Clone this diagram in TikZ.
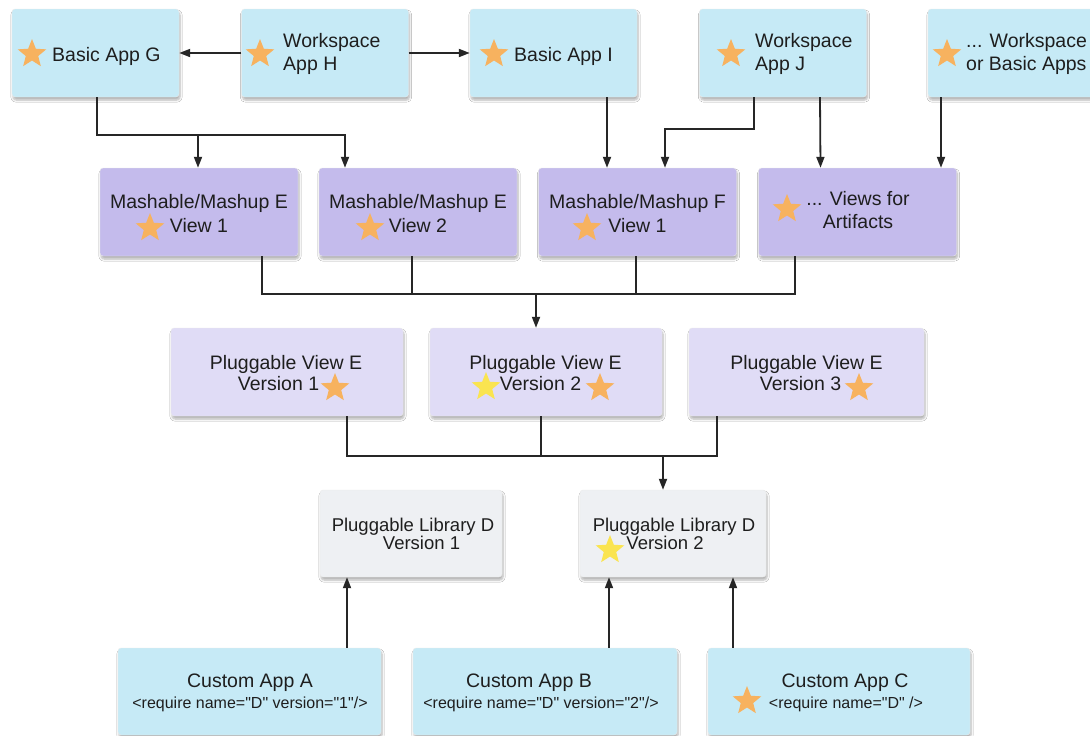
\documentclass[tikz,border=0pt]{standalone}
\usepackage{fontspec}
\setmainfont{Liberation Sans}
\newfontfamily\codefont{Liberation Sans}[Ligatures=TeXOff]
\usetikzlibrary{shapes.geometric,arrows.meta,shadows.blur}
\definecolor{appblue}{RGB}{198,234,246}
\definecolor{mashpurple}{RGB}{196,187,236}
\definecolor{viewlav}{RGB}{224,220,246}
\definecolor{libgray}{RGB}{238,240,243}
\definecolor{starorange}{RGB}{247,178,95}
\definecolor{staryellow}{RGB}{250,228,80}
\definecolor{textc}{RGB}{30,30,30}
\begin{document}
\begin{tikzpicture}[x=1pt,y=-1pt,
  box/.style={draw=black!8, line width=0.4pt, rounded corners=3pt, inner sep=0,
    blur shadow={shadow xshift=1pt, shadow yshift=-3pt, shadow blur steps=6, shadow blur extra rounding=2pt, shadow opacity=30}},
  topbox/.style={box, fill=appblue, minimum width=167pt, minimum height=88pt},
  mashbox/.style={box, fill=mashpurple, minimum width=198pt, minimum height=88pt},
  viewbox/.style={box, fill=viewlav, minimum width=232pt, minimum height=88pt},
  libbox/.style={box, fill=libgray, minimum width=184pt, minimum height=87pt},
  custbox/.style={box, fill=appblue, minimum width=263pt, minimum height=87pt},
  ostar/.style={star, star points=5, star point ratio=2.3, minimum size=30pt, inner sep=0pt, fill=starorange, draw=none},
  ystar/.style={ostar, fill=staryellow},
  txt/.style={font=\fontsize{19.5}{23}\selectfont, text=textc, inner sep=0pt},
  ltxt/.style={font=\fontsize{18.5}{20}\selectfont, text=textc, inner sep=0pt},
  stxt/.style={font=\codefont\fontsize{16}{19}\selectfont, text=textc, inner sep=0pt},
  conn/.style={line width=1.8pt, draw=black!85},
  arr/.style={conn, -{Triangle[length=11pt,width=8pt]}}
]
\fill[white] (0,0) rectangle (1090,736);
\useasboundingbox (0,0) rectangle (1090,736);

% top row
\node[topbox] (G) at (95.5,53) {};
\node[topbox] (H) at (325,53) {};
\node[topbox] (I) at (553.5,53) {};
\node[topbox] (J) at (783,53) {};
\node[topbox, minimum width=172pt] (K) at (1014,53) {};

\node[ostar] (sG) at (32,54) {};
\node[ostar] (sH) at (260,54) {};
\node[ostar] (sI) at (494,54) {};
\node[ostar] (sJ) at (731,54) {};
\node[ostar] (sK) at (947,54) {};

\node[txt, anchor=base west] (tG) at (52,61) {Basic App G};
\node[txt, anchor=base west] (tH1) at (283,47) {Workspace};
\node[txt, anchor=base west] (tH2) at (283,70) {App H};
\node[txt, anchor=base west] (tI) at (514,61) {Basic App I};
\node[txt, anchor=base west] (tJ1) at (755,47) {Workspace};
\node[txt, anchor=base west] (tJ2) at (755,70) {App J};
\node[txt, anchor=base west] (tK1) at (966,47) {... Workspace};
\node[txt, anchor=base west] (tK2) at (966,70) {or Basic Apps};

% second row
\node[mashbox] (E1) at (199,212) {};
\node[mashbox] (E2) at (418,212) {};
\node[mashbox] (F1) at (637.5,212) {};
\node[mashbox] (Art) at (857.5,212) {};

\node[txt, anchor=base] (tE1a) at (199,208) {Mashable/Mashup E};
\node[txt, anchor=base] (tE1b) at (199,232) {View 1};
\node[ostar] (sE1) at (150,228) {};
\node[txt, anchor=base] (tE2a) at (418,208) {Mashable/Mashup E};
\node[txt, anchor=base] (tE2b) at (418,232) {View 2};
\node[ostar] (sE2) at (370,228) {};
\node[txt, anchor=base] (tF1a) at (637.5,208) {Mashable/Mashup F};
\node[txt, anchor=base] (tF1b) at (637.5,232) {View 1};
\node[ostar] (sF1) at (587,228) {};
\node[txt, anchor=base] (tArta) at (858,205) {... Views for};
\node[txt, anchor=base] (tArtb) at (858,228) {Artifacts};
\node[ostar] (sArt) at (787,209) {};

% third row
\node[viewbox] (PV1) at (287,372) {};
\node[viewbox] (PV2) at (546,372) {};
\node[viewbox, minimum width=235pt] (PV3) at (806.5,372) {};

\node[txt, anchor=base] (tPV1a) at (286,369) {Pluggable View E};
\node[txt, anchor=base] (tPV1b) at (278.5,390) {Version 1};
\node[ostar] (sPV1) at (335,388) {};
\node[txt, anchor=base] (tPV2a) at (545.5,369) {Pluggable View E};
\node[txt, anchor=base] (tPV2b) at (540.5,390) {Version 2};
\node[ystar] (yPV2) at (486,387) {};
\node[ostar] (sPV2) at (600,388) {};
\node[txt, anchor=base] (tPV3a) at (806.5,369) {Pluggable View E};
\node[txt, anchor=base] (tPV3b) at (800.5,390) {Version 3};
\node[ostar] (sPV3) at (859,388) {};

% fourth row
\node[libbox, minimum width=182pt] (L1) at (411,533.5) {};
\node[libbox, minimum width=186pt] (L2) at (673,533.5) {};

\node[ltxt, anchor=base] (tL1a) at (413,531) {Pluggable Library D};
\node[ltxt, anchor=base] (tL1b) at (421.5,549.5) {Version 1};
\node[ltxt, anchor=base] (tL2a) at (674,531) {Pluggable Library D};
\node[ltxt, anchor=base] (tL2b) at (665,549.5) {Version 2};
\node[ystar] (yL2) at (610,550) {};

% bottom row
\node[custbox] (A) at (249.5,691.5) {};
\node[custbox, minimum width=264pt] (B) at (545,691.5) {};
\node[custbox, minimum width=262pt] (C) at (839,691.5) {};

\node[txt, anchor=base] (tAa) at (250,687) {Custom App A};
\node[stxt, anchor=base] (tAb) at (250,708) {<require name="D" version="1"/>};
\node[txt, anchor=base] (tBa) at (529,687) {Custom App B};
\node[stxt, anchor=base] (tBb) at (541,708) {<require name="D" version="2"/>};
\node[txt, anchor=base] (tCa) at (845,687) {Custom App C};
\node[stxt, anchor=base] (tCb) at (846,708) {<require name="D" />};
\node[ostar] (sC) at (747,701) {};

% connectors top
\draw[arr] (H.west) -- (G.east);
\draw[arr] (H.east) -- (I.west);
\draw[arr] ([xshift=1.5pt]G.south) -- ++(0,38) -| ([xshift=-1pt]E1.north);
\draw[arr] ([xshift=1.5pt]G.south) -- ++(0,38) -| ([xshift=-73pt]E2.north);
\draw[arr] ([xshift=53.5pt]I.south) -- ([xshift=-30.5pt]F1.north);
\draw[arr] ([xshift=-29pt]J.south) -- ++(0,32) -| ([xshift=27.5pt]F1.north);
\draw[arr] ([xshift=37pt]J.south) -- ([xshift=-37pt]Art.north);
\draw[arr] ([xshift=-73pt]K.south) -- ([xshift=83.5pt]Art.north);

% bus 2
\draw[conn] ([xshift=63pt]E1.south) -- ++(0,38) -| ([xshift=-62.5pt]Art.south);
\draw[conn] ([xshift=-6pt]E2.south) -- ++(0,38);
\draw[conn] ([xshift=-1.5pt]F1.south) -- ++(0,38);
\coordinate (b2) at ([xshift=-10pt,yshift=34pt]PV2.north);
\draw[arr] (b2) -- ([xshift=-10pt]PV2.north);

% bus 3
\draw[conn] ([xshift=60pt]PV1.south) -- ++(0,40) -| ([xshift=-89.5pt]PV3.south);
\draw[conn] ([xshift=-5pt]PV2.south) -- ++(0,40);
\coordinate (b3) at ([xshift=-10pt,yshift=34pt]L2.north);
\draw[arr] (b3) -- ([xshift=-10pt]L2.north);

% bottom arrows
\draw[arr] ([xshift=97.5pt]A.north) -- ([xshift=-64pt]L1.south);
\draw[arr] ([xshift=64pt]B.north) -- ([xshift=-64pt]L2.south);
\draw[arr] ([xshift=-106pt]C.north) -- ([xshift=60pt]L2.south);
\end{tikzpicture}
\end{document}
